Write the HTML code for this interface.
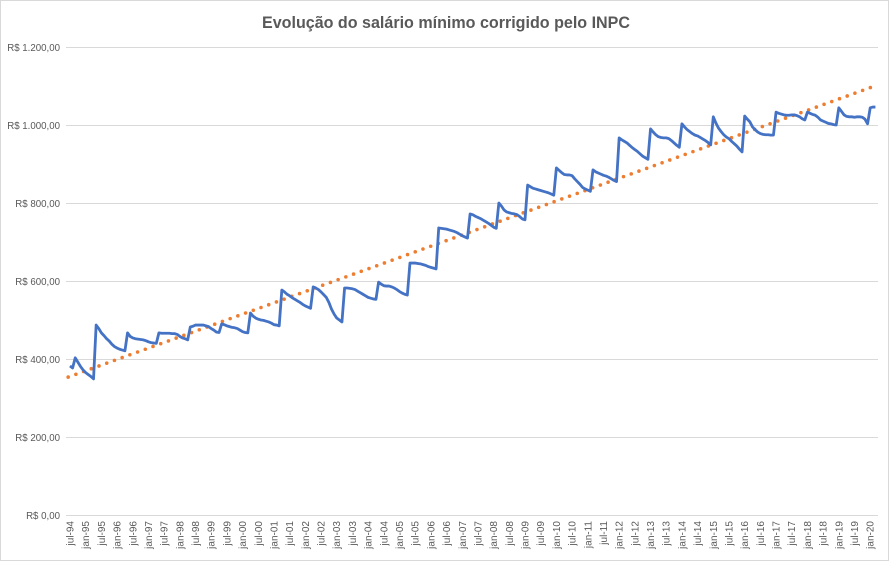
<!DOCTYPE html>
<html><head><meta charset="utf-8">
<style>
html,body{margin:0;padding:0;background:#fff;}
svg{display:block;font-family:"Liberation Sans",sans-serif;}
</style></head>
<body>
<svg id="chart" width="889" height="561" viewBox="0 0 889 561" xmlns="http://www.w3.org/2000/svg">
<rect x="0.5" y="0.5" width="888" height="560" fill="#fff" stroke="#d9d9d9"/>
<text x="446" y="28" text-anchor="middle" font-size="17" font-weight="bold" fill="#595959" textLength="368" lengthAdjust="spacingAndGlyphs">Evolução do salário mínimo corrigido pelo INPC</text>
<g id="grid"></g>
<g id="yaxis"></g>
<g id="xaxis"></g>
<g id="series"></g>
</svg>
<script>
const yTicks = [0,200,400,600,800,1000,1200];
const yTickLabels = ["R$ 0,00","R$ 200,00","R$ 400,00","R$ 600,00","R$ 800,00","R$ 1.000,00","R$ 1.200,00"];
const xTickLabels = ["jul-94","jan-95","jul-95","jan-96","jul-96","jan-97","jul-97","jan-98","jul-98","jan-99","jul-99","jan-00","jul-00","jan-01","jul-01","jan-02","jul-02","jan-03","jul-03","jan-04","jul-04","jan-05","jul-05","jan-06","jul-06","jan-07","jul-07","jan-08","jul-08","jan-09","jul-09","jan-10","jul-10","jan-11","jul-11","jan-12","jul-12","jan-13","jul-13","jan-14","jul-14","jan-15","jul-15","jan-16","jul-16","jan-17","jul-17","jan-18","jul-18","jan-19","jul-19","jan-20"];
const salary = [
382,377,403,392,381,372,365,360,355,349,
487,478,467,460,452,446,438,432,428,425,423,421,
467,458,454,452,451,450,449,447,444,442,441,440,
467,466,466,466,466,465,465,463,458,454,452,449,
482,484,487,487,487,487,485,483,478,474,469,468,
490,488,485,483,481,480,478,474,470,468,467,
518,510,505,502,500,499,497,495,492,488,487,485,
577,572,566,562,557,553,549,545,540,536,533,530,
585,582,578,572,565,558,545,528,515,505,500,495,
582,582,581,580,578,574,570,566,562,558,556,554,553,
597,592,588,587,587,585,582,578,573,569,566,564,
646,646,646,645,644,642,640,637,635,633,631,
736,735,734,733,731,729,727,724,720,716,713,710,
772,770,766,763,760,756,752,748,743,738,735,
800,792,782,777,775,773,772,770,765,759,757,
846,842,838,836,834,832,830,828,826,823,820,
890,884,878,873,872,872,870,862,855,848,840,836,833,830,
885,880,877,874,871,869,866,862,858,855,
967,962,958,954,948,942,937,932,926,920,916,912,
990,982,975,970,968,967,967,965,960,954,948,943,
1003,995,988,983,978,974,972,968,964,960,955,949,
1021,1005,992,983,975,969,965,958,952,946,938,931,
1023,1015,1008,995,988,982,978,976,975,975,974,974,
1033,1030,1028,1026,1025,1025,1026,1026,1024,1021,1016,1013,
1033,1030,1027,1025,1020,1013,1010,1007,1004,1003,1001,1000,
1044,1035,1026,1022,1021,1021,1020,1021,1021,1020,1015,1003,
1044,1046,1046
];

const NS = "http://www.w3.org/2000/svg";
const plotL = 66, plotR = 878, y0 = 515, y1 = 47;
const yMax = 1200;
const x0 = 70, monthStep = 2.615;
function yScale(v){ return y0 - (v / yMax) * (y0 - y1); }
function xScale(m){ return x0 + m * monthStep; }
function mk(tag, attrs, parent){
  const el = document.createElementNS(NS, tag);
  for (const k in attrs) el.setAttribute(k, attrs[k]);
  parent.appendChild(el);
  return el;
}
const grid = document.getElementById('grid');
const yaxis = document.getElementById('yaxis');
yTicks.forEach((t, i) => {
  const yy = Math.round(yScale(t)) + 0.5;
  const gl = mk('line', {x1: plotL, x2: plotR, y1: yy, y2: yy, stroke: '#d9d9d9', 'stroke-width': 1}, grid);
  
  
  const tx = mk('text', {x: 60, y: yy + 3.5, 'text-anchor': 'end', 'font-size': 9.7, fill: '#595959'}, yaxis);
  tx.textContent = yTickLabels[i];
  
  
});
const xaxis = document.getElementById('xaxis');
xTickLabels.forEach((lab, i) => {
  const xx = xScale(i * 6);
  const tx = mk('text', {x: 0, y: 0, 'text-anchor': 'end', 'font-size': 10, fill: '#595959',
    transform: 'translate(' + (xx + 3.5) + ',521) rotate(-90)'}, xaxis);
  tx.textContent = lab;
  
  
});
const series = document.getElementById('series');
const n = salary.length;
let sx = 0, sy = 0, sxx = 0, sxy = 0;
salary.forEach((v, m) => { sx += m; sy += v; sxx += m * m; sxy += m * v; });
const slope = (n * sxy - sx * sy) / (n * sxx - sx * sx);
const icpt = (sy - slope * sx) / n;
const mEnd = (plotR - x0) / monthStep;
const trend = mk('line', {x1: xScale(-0.7), y1: yScale(icpt + slope * -0.7), x2: xScale(mEnd), y2: yScale(icpt + slope * mEnd),
  stroke: '#ED7D31', 'stroke-width': 3.6, 'stroke-linecap': 'round', 'stroke-dasharray': '0 8.2'}, series);


const d = salary.map((v, m) => (m ? 'L' : 'M') + xScale(m).toFixed(2) + ' ' + yScale(v).toFixed(2)).join(' ');
const line = mk('path', {d: d, fill: 'none', stroke: '#4472C4', 'stroke-width': 2.8, 'stroke-linejoin': 'round'}, series);


</script>
</body></html>
